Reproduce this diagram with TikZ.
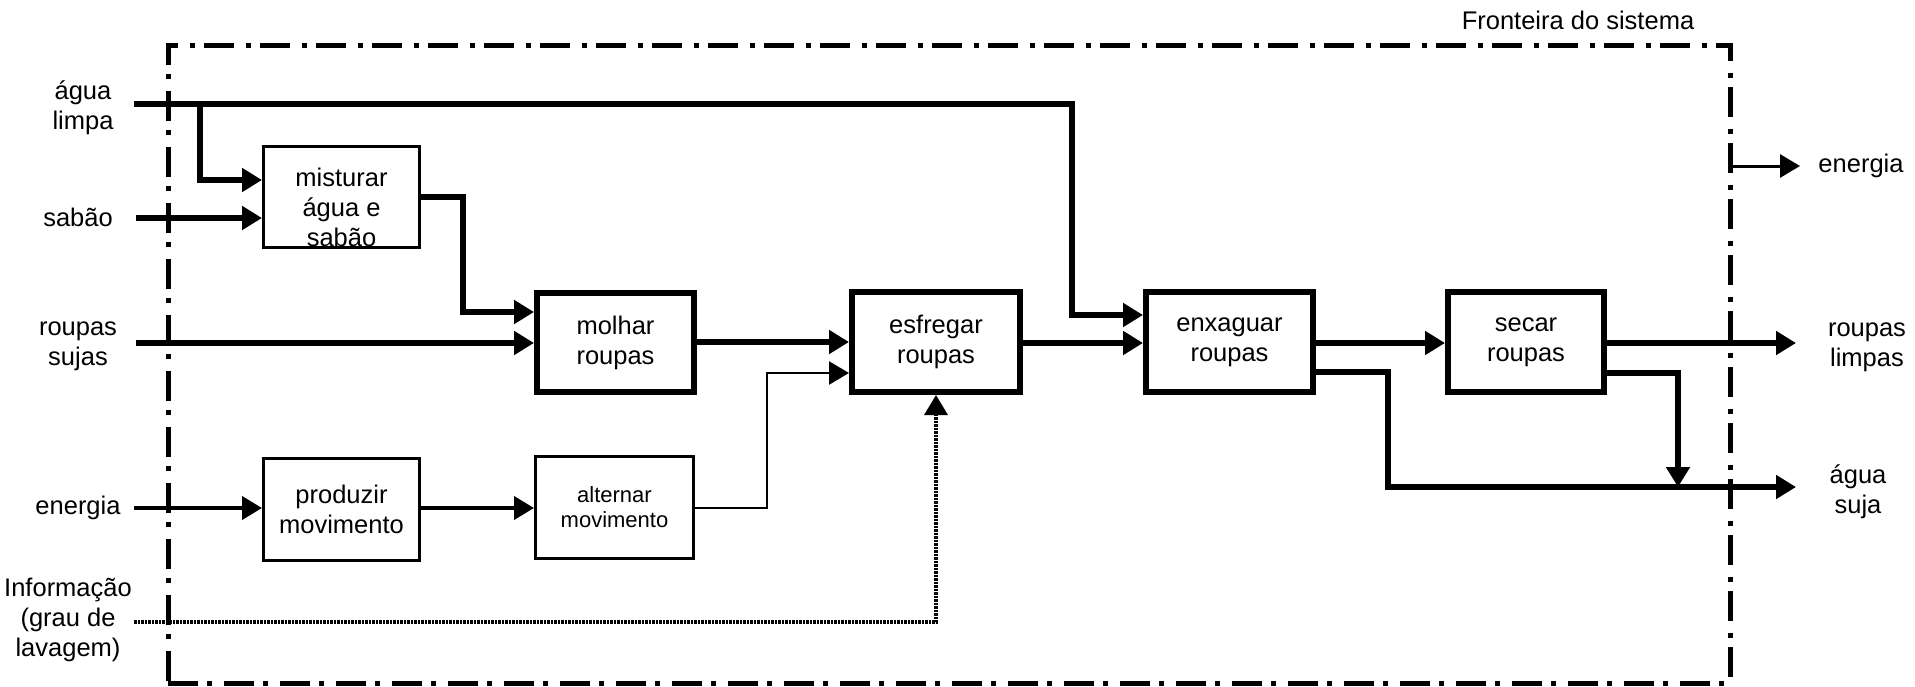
\documentclass[tikz,border=0pt]{standalone}
\usepackage{fontspec}
\setmainfont{Liberation Sans}
\usetikzlibrary{arrows.meta}
\begin{document}
\begin{tikzpicture}[x=1pt,y=-1pt,
  every node/.style={font=\fontsize{25.5}{30}\selectfont, align=center, inner sep=0pt},
  smalltext/.style={font=\fontsize{22}{25}\selectfont},
  thinbox/.style={draw, line width=3pt, minimum width=156pt, minimum height=102pt},
  thickbox/.style={draw, line width=6pt, minimum width=157pt, minimum height=100pt},
  arrowtip/.style={-{Triangle[length=20pt,width=23pt]}},
  flow/.style={line width=6pt, arrowtip},
  medflow/.style={line width=4pt, arrowtip},
  thinflow/.style={line width=2.5pt, arrowtip},
  infoflow/.style={line width=3.5pt, dash pattern=on 2.5pt off 1pt, arrowtip},
  boundary/.style={draw, line width=5pt, dash pattern=on 30pt off 9pt on 5pt off 12pt}
]
\useasboundingbox (0,0) rectangle (1915,686);

% system boundary
\node[boundary, minimum width=1562pt, minimum height=638pt] (fr) at (949,364) {};
\node (frlbl) at (1578,20) {Fronteira do sistema};

% boxes
\node[thinbox, minimum height=101pt] (mis) at (341.5,197) {};
\node (mistxt) at (341.5,207) {misturar\\água e\\sabão};
\node[thinbox] (prod) at (341.5,509.5) {produzir\\movimento};
\node[thinbox, minimum width=158pt, smalltext] (alt) at (614.5,507) {alternar\\movimento};
\node[thickbox, minimum height=99pt] (mol) at (615.5,342.5) {molhar\\roupas};
\node[thickbox, minimum width=168pt] (esf) at (936,342) {esfregar\\roupas};
\node[thickbox, minimum width=167pt] (enx) at (1229.5,342) {enxaguar\\roupas};
\node[thickbox, minimum width=156pt] (sec) at (1526,342) {secar\\roupas};

% labels
\node (lagua) at (83,108) {água\\limpa};
\node (lsabao) at (78,217) {sabão};
\node (lroupas) at (78,346) {roupas\\sujas};
\node (lenergia) at (78,508) {energia};
\node (linfo) at (68,620) {Informação\\(grau de\\lavagem)};
\node (renergia) at (1861,166) {energia};
\node (rroupas) at (1867,347) {roupas\\limpas};
\node (ragua) at (1858,492) {água\\suja};

% free ends and junctions
\coordinate (aguaIn) at (134,104);
\coordinate (aguaBr) at (200,104);
\coordinate (sabaoIn) at (136,218);
\coordinate (roupasIn) at (136,343);
\coordinate (energiaIn) at (134,508);
\coordinate (infoIn) at (134,622);
\coordinate (roupasOut) at (1796,343);
\coordinate (aguaOut) at (1796,487);
\coordinate (energiaOut) at (1800,166);

% connectors
\draw[flow] (aguaIn) -| (1072,315) -- (enx.west |- 0,315);
\draw[flow] (aguaBr) |- (mis.west |- 0,180);
\draw[flow] (sabaoIn) -- (mis.west |- 0,218);
\draw[flow] (mis.east |- 0,197) -| (463,312) -- (mol.west |- 0,312);
\draw[flow] (roupasIn) -- (mol.west |- 0,343);
\draw[flow] (mol.east |- 0,342) -- (esf.west |- 0,342);
\draw[thinflow] (alt.east |- 0,508) -| (767,373) -- (esf.west |- 0,373);
\draw[medflow] (energiaIn) -- (prod.west |- 0,508);
\draw[medflow] (prod.east |- 0,508) -- (alt.west |- 0,508);
\draw[infoflow] (infoIn) -| (esf.south);
\draw[flow] (esf.east |- 0,343) -- (enx.west |- 0,343);
\draw[flow] (enx.east |- 0,343) -- (sec.west |- 0,343);
\draw[flow] (enx.east |- 0,372) -| (1388,487) -- (aguaOut);
\draw[flow] (sec.east |- 0,343) -- (roupasOut);
\draw[flow] (sec.east |- 0,373) -| (1678,487);
\draw[thinflow, line width=3pt] (fr.east |- 0,166) -- (energiaOut);
\end{tikzpicture}
\end{document}
